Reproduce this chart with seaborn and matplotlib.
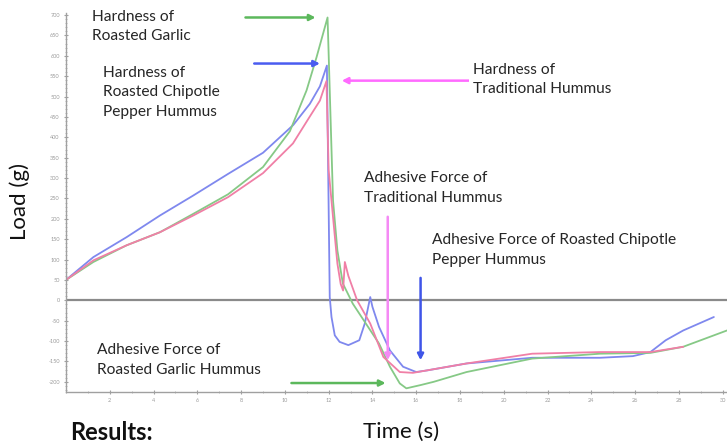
import numpy as np
import pandas as pd
import matplotlib
matplotlib.use("Agg")
import matplotlib.pyplot as plt
import seaborn as sns
from matplotlib.ticker import MultipleLocator

# ---- data ----
chipotle_x = [0, 1.25, 2.77, 4.29, 5.81, 7.4, 9.0, 10.38, 11.14, 11.6, 11.92, 12.05, 12.13, 12.28, 12.5, 12.9,
              13.4, 13.65, 13.9, 14.0, 14.3, 14.8, 15.4, 16.0, 16.5, 18.3, 21.3, 24.4, 25.9, 26.7, 27.4, 28.2, 29.6]
chipotle_y = [50, 106, 155, 208, 257, 310, 362, 430, 482, 525, 576, 8, -41, -86, -102, -110,
              -98, -57, 8, -16, -65, -123, -163, -176, -172, -155, -141, -141, -137, -127, -98, -74, -41]

garlic_x = [0, 1.25, 2.77, 4.29, 5.81, 7.4, 9.0, 10.23, 10.99, 11.45, 11.95, 12.2, 12.4, 12.65, 13.1, 13.7,
            14.3, 14.8, 15.25, 15.55, 16.2, 16.8, 18.3, 21.3, 24.4, 26.7, 28.2, 30.2]
garlic_y = [50, 94, 135, 167, 212, 260, 327, 415, 515, 597, 694, 245, 122, 41, -8, -57,
            -106, -163, -204, -216, -208, -200, -176, -143, -131, -129, -114, -74]

traditional_x = [0, 1.25, 2.77, 4.29, 5.81, 7.4, 9.0, 10.37, 11.14, 11.6, 11.9, 12.0, 12.2, 12.4, 12.55, 12.66,
                 12.74, 12.9, 13.3, 13.9, 14.5, 15.25, 15.85, 18.3, 21.3, 24.4, 26.7, 28.2]
traditional_y = [50, 98, 135, 167, 208, 253, 312, 385, 451, 490, 538, 320, 204, 90, 40, 24,
                 94, 60, 0, -57, -139, -176, -178, -155, -131, -127, -127, -114]

series_names = ["Roasted Chipotle Pepper Hummus", "Roasted Garlic Hummus", "Traditional Hummus"]
series_colors = ["#7f88ee", "#86c986", "#f07fa6"]

x_ticks = list(range(2, 31, 2))
y_ticks = list(range(-200, 701, 50))

df = pd.concat([
    pd.DataFrame({"Time (s)": chipotle_x, "Load (g)": chipotle_y, "Sample": series_names[0]}),
    pd.DataFrame({"Time (s)": garlic_x, "Load (g)": garlic_y, "Sample": series_names[1]}),
    pd.DataFrame({"Time (s)": traditional_x, "Load (g)": traditional_y, "Sample": series_names[2]}),
], ignore_index=True)

sns.set_style("white")
plt.rcParams["font.family"] = ["Lato", "DejaVu Sans"]

W, H = 727, 445
fig = plt.figure(figsize=(W / 100, H / 100), dpi=100)
ax = fig.add_axes([66 / W, (H - 392) / H, (W - 66) / W, (392 - 13) / H])

sns.lineplot(data=df, x="Time (s)", y="Load (g)", hue="Sample", palette=dict(zip(series_names, series_colors)),
             sort=False, estimator=None, lw=1.3, legend=False, ax=ax)

ax.set_xlim(0, 30.2)
ax.set_ylim(-225, 705)
ax.axhline(0, color="#8a8a8a", lw=1.6, zorder=1)

for s in ["top", "right"]:
    ax.spines[s].set_visible(False)
for s in ["left", "bottom"]:
    ax.spines[s].set_color("#a0a0a0")
    ax.spines[s].set_linewidth(1.0)

ax.set_xticks(x_ticks)
ax.set_xticklabels([str(t) for t in x_ticks], fontsize=4, color="#9a9a9a")
ax.set_yticks(y_ticks)
ax.set_yticklabels([str(t) for t in y_ticks], fontsize=4, color="#9a9a9a")
ax.xaxis.set_minor_locator(MultipleLocator(1))
ax.yaxis.set_minor_locator(MultipleLocator(10))
ax.tick_params(axis="both", which="major", length=3, width=0.8, color="#a0a0a0", direction="inout", pad=3)
ax.tick_params(axis="both", which="minor", length=2, width=0.6, color="#b0b0b0", direction="inout")
ax.tick_params(left=True, bottom=True, which="both")
ax.set_xlabel("")
ax.set_ylabel("")

fig.text(20 / W, 1 - 202 / H, "Load (g)", rotation=90, ha="center", va="center", fontsize=16, color="#111111")
fig.text(401 / W, 1 - 432 / H, "Time (s)", ha="center", va="center", fontsize=16, color="#111111")
fig.text(70 / W, 1.0 / H, "Results:", ha="left", va="bottom", fontsize=17, fontweight="bold", color="#111111")

box = dict(facecolor="white", edgecolor="none", pad=3)
tfs = 11.2
ls = 1.5
ax.text(1.17, 672, "Hardness of\nRoasted Garlic", fontsize=tfs, va="center", ha="left", linespacing=ls, bbox=box, zorder=6)
ax.text(1.70, 510, "Hardness of\nRoasted Chipotle\nPepper Hummus", fontsize=tfs, va="center", ha="left", linespacing=ls, bbox=box, zorder=6)
ax.text(18.6, 542, "Hardness of\nTraditional Hummus", fontsize=tfs, va="center", ha="left", linespacing=ls, bbox=box, zorder=6)
ax.text(13.6, 275, "Adhesive Force of\nTraditional Hummus", fontsize=tfs, va="center", ha="left", linespacing=ls, bbox=box, zorder=6)
ax.text(16.7, 123, "Adhesive Force of Roasted Chipotle\nPepper Hummus", fontsize=tfs, va="center", ha="left", linespacing=ls, bbox=box, zorder=6)
ax.text(1.42, -147, "Adhesive Force of\nRoasted Garlic Hummus", fontsize=tfs, va="center", ha="left", linespacing=ls, bbox=box, zorder=6)

def arrow(x0, y0, x1, y1, color):
    ax.annotate("", xy=(x1, y1), xytext=(x0, y0),
                arrowprops=dict(arrowstyle="-|>,head_length=0.35,head_width=0.18", color=color, lw=1.8,
                                shrinkA=0, shrinkB=0), zorder=5)

arrow(8.2, 694, 11.4, 694, "#5cb85c")
arrow(8.6, 581, 11.6, 581, "#4a5cf0")
arrow(18.5, 539, 12.6, 539, "#ff6bff")
arrow(14.7, 205, 14.7, -147, "#f58af5")
arrow(16.2, 55, 16.2, -147, "#3f55e8")
arrow(10.3, -203, 14.6, -203, "#5cb85c")

fig.savefig("out.png", dpi=100)
